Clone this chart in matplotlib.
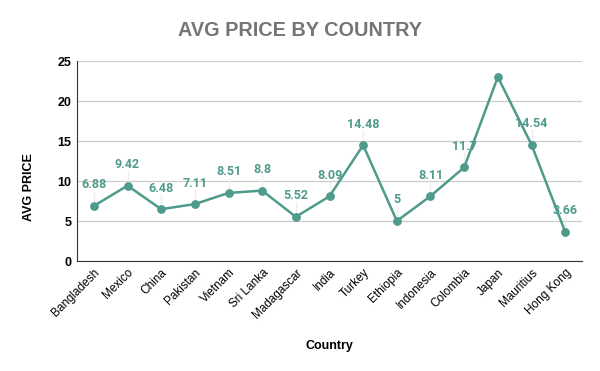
import matplotlib
matplotlib.use("Agg")
import matplotlib.pyplot as plt

countries = ["Bangladesh", "Mexico", "China", "Pakistan", "Vietnam", "Sri Lanka",
             "Madagascar", "India", "Turkey", "Ethiopia", "Indonesia", "Colombia",
             "Japan", "Mauritius", "Hong Kong"]
avg_price = [6.88, 9.42, 6.48, 7.11, 8.51, 8.8, 5.52, 8.09, 14.48, 5, 8.11, 11.7,
             23.0, 14.54, 3.66]
labels = ["6.88", "9.42", "6.48", "7.11", "8.51", "8.8", "5.52", "8.09", "14.48",
          "5", "8.11", "11.7", "", "14.54", "3.66"]

color = "#4e9b8b"
fig = plt.figure(figsize=(6, 3.71), dpi=100)
ax = fig.add_axes([77/600, 1-261/371, (582-77)/600, 200/371])

x = list(range(len(countries)))
ax.plot(x, avg_price, color=color, lw=1.8, marker="o", ms=5.3, zorder=3)
for xi, v, lab in zip(x, avg_price, labels):
    if not lab:
        continue
    ax.plot([xi, xi], [v, v + 1.8], color="#eeeeee", lw=1, zorder=1)
    ax.annotate(lab, (xi, v), xytext=(0, 10.5), textcoords="offset points",
                ha="center", va="bottom", color=color, fontsize=9,
                fontweight="bold", family="Roboto", zorder=2)

ax.set_xlim(-0.5, len(countries) - 0.5)
ax.set_ylim(0, 25)
ax.set_yticks([0, 5, 10, 15, 20, 25])
ax.grid(axis="y", color="#cccccc", lw=0.9)
ax.set_axisbelow(True)
for s in ["top", "right"]:
    ax.spines[s].set_visible(False)
ax.spines["left"].set_color("#333333")
ax.spines["bottom"].set_color("#333333")
ax.tick_params(length=0, pad=4)
ax.set_xticks(x)
ax.set_xticklabels(countries, rotation=45, ha="right", rotation_mode="anchor",
                   fontsize=8.5, family="Liberation Sans")
for t in ax.get_yticklabels():
    t.set_fontweight("bold")
    t.set_family("Liberation Sans")
    t.set_fontsize(9)

ax.set_ylabel("AVG PRICE", fontsize=9, fontweight="bold", family="Liberation Sans")
ax.yaxis.set_label_coords(-0.083, 0.37)
ax.set_xlabel("Country", fontsize=9, fontweight="bold", family="Liberation Sans", labelpad=14)
fig.text(0.5, 1-31/371, "AVG PRICE BY COUNTRY", ha="center", va="center",
         fontsize=14.3, fontweight="bold", color="#757575", family="Liberation Sans")

fig.savefig("out.png", dpi=100)
